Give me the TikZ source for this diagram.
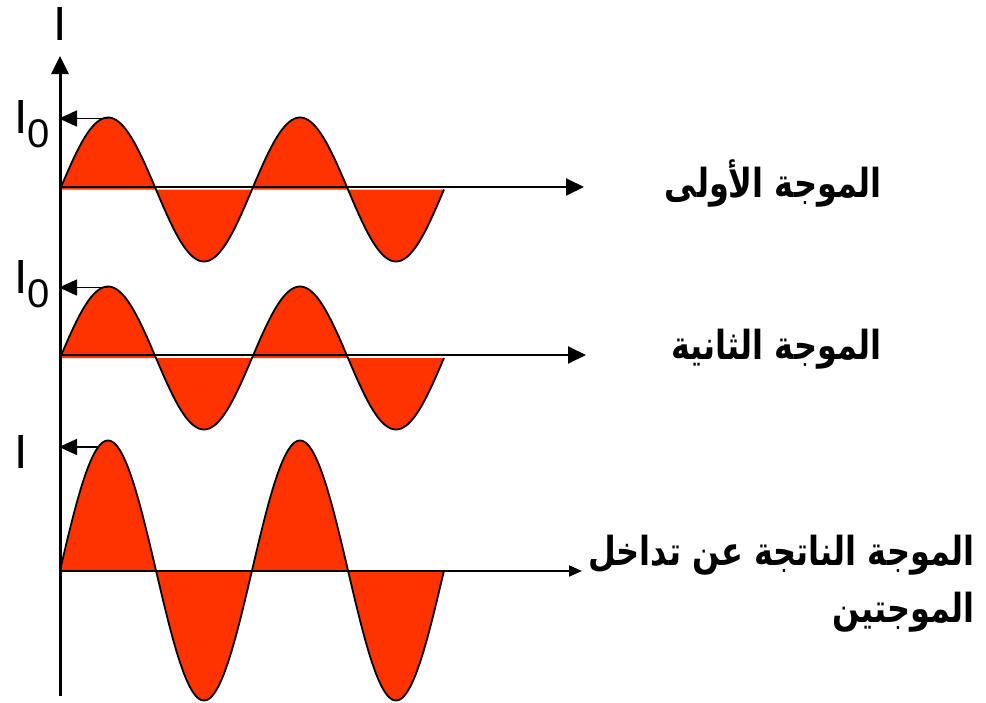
\documentclass[tikz,border=0pt]{standalone}
\usepackage{fontspec}
\setmainfont{Liberation Sans}
\newfontfamily\arabicfont[Script=Arabic]{DejaVu Sans}
\TeXXeTstate=1
\usetikzlibrary{arrows.meta}
\definecolor{wavered}{RGB}{255,51,0}
\newcommand{\artall}[1]{\scalebox{1}[1.25]{#1}}
\tikzset{
  haxis/.style={line width=2pt, -{Triangle[length=18pt,width=17pt]}},
  haxissmall/.style={line width=2pt, -{Triangle[length=13pt,width=11pt]}},
  vaxis/.style={line width=3pt, -{Triangle[length=18pt,width=17pt]}},
  peakarrow/.style={line width=1.5pt, -{Triangle[length=18pt,width=16pt]}},
  wavefill/.style={fill=wavered},
  wavecurve/.style={line width=1.8pt, black, line join=round},
  arlabel/.style={font=\arabicfont\bfseries\fontsize{32}{38}\selectfont, inner sep=0pt, anchor=east},
  latlabel/.style={font=\fontsize{48}{48}\selectfont, inner sep=0pt},
}
\begin{document}
\begin{tikzpicture}[x=1pt,y=-1pt]
\useasboundingbox (0,0) rectangle (986,702);

% wave 1
\fill[wavefill] plot[domain=0:384,samples=241] ({60+\x},{189.5-72*sin(\x*1.875)}) -- cycle;
\draw[wavecurve] plot[domain=0:384,samples=241] ({60+\x},{189.5-72*sin(\x*1.875)});
% wave 2
\fill[wavefill] plot[domain=0:384,samples=241] ({60+\x},{358-71.5*sin(\x*1.875)}) -- cycle;
\draw[wavecurve] plot[domain=0:384,samples=241] ({60+\x},{358-71.5*sin(\x*1.875)});
% wave 3
\fill[wavefill] plot[domain=0:384,samples=241] ({60+\x},{570.5-130*sin(\x*1.875)}) -- cycle;
\draw[wavecurve] plot[domain=0:384,samples=241] ({60+\x},{570.5-130*sin(\x*1.875)});

% coordinates
\coordinate (vbot) at (60,696);
\coordinate (vtop) at (60,56);
\coordinate (h1s) at (60,187);
\coordinate (h1e) at (584,187);
\coordinate (h2s) at (60,355);
\coordinate (h2e) at (586,355);
\coordinate (h3s) at (60,571);
\coordinate (h3e) at (582,571);
\coordinate (p1) at (108,118.5);
\coordinate (p1a) at (59,118.5);
\coordinate (p2) at (108,287.5);
\coordinate (p2a) at (59,287.5);
\coordinate (p3) at (98,447);
\coordinate (p3a) at (59,447);

% axes
\draw[vaxis] (vbot) -- (vtop);
\draw[haxis] (h1s) -- (h1e);
\draw[haxis] (h2s) -- (h2e);
\draw[haxissmall] (h3s) -- (h3e);
\draw[peakarrow] (p1) -- (p1a);
\draw[peakarrow] (p2) -- (p2a);
\draw[peakarrow] (p3) -- (p3a);

% latin labels
\node[latlabel, anchor=base] (ltop) at (60,40) {I};
\node[latlabel, anchor=base west] (li1) at (14,133) {I\raisebox{-14pt}{\fontsize{40}{40}\selectfont 0}};
\node[latlabel, anchor=base west] (li2) at (14,293) {I\raisebox{-14pt}{\fontsize{40}{40}\selectfont 0}};
\node[latlabel, anchor=base west] (li3) at (14,468) {I};

% arabic labels
\node[arlabel] (lab1) at (882,183) {\artall{\beginR الموجة الأولى\endR}};
\node[arlabel] (lab2) at (882,349) {\artall{\beginR الموجة الثانية\endR}};
\node[arlabel] (lab3a) at (975,555) {\artall{\beginR الموجة الناتجة عن تداخل\endR}};
\node[arlabel] (lab3b) at (975,612) {\artall{\beginR الموجتين\endR}};
\end{tikzpicture}
\end{document}
